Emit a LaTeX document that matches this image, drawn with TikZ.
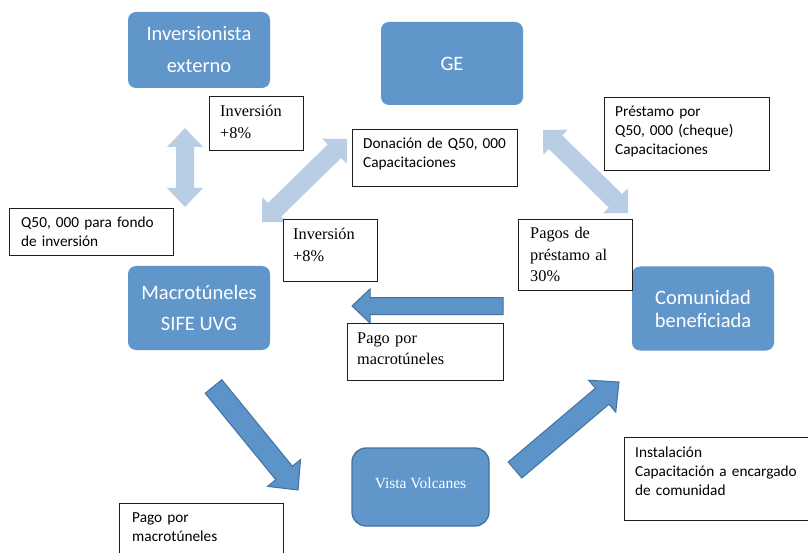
\documentclass[tikz,border=0pt]{standalone}
\usepackage{fontspec}
\setmainfont{Carlito}
\newfontfamily\calib{Carlito}
\newfontfamily\serifA{Liberation Serif}
\usetikzlibrary{calc}
\definecolor{boxblue}{RGB}{96,150,201}
\definecolor{lightarr}{RGB}{185,205,228}
\definecolor{darkarr}{RGB}{92,147,201}
\definecolor{darkedge}{RGB}{66,114,160}
\definecolor{boxline}{RGB}{30,30,30}
\tikzset{
  bluebox/.style={fill=boxblue, draw=none, rounded corners=8pt, text=white, align=center, inner sep=0pt},
  wbox/.style={draw=boxline, line width=1.3pt, fill=white, inner sep=0pt, anchor=north west},
  sanstxt/.style={font=\calib\fontsize{15.3}{19}\selectfont, anchor=base west, inner sep=0pt, align=left},
  seriftxt/.style={font=\serifA\fontsize{16.3}{21.3}\selectfont, anchor=base west, inner sep=0pt, align=left},
  lightstyle/.style={fill=lightarr, draw=none},
  darkstyle/.style={fill=darkarr, draw=darkedge, line width=1pt, line join=miter},
}
\newcommand\singlearr[6]{%
  \coordinate (#3-hb) at ($(#3)!#6!(#2)$);
  \path[#1] ($(#2)!#4!90:(#3)$) -- ($(#3-hb)!#4!90:(#3)$) -- ($(#3-hb)!#5!90:(#3)$) -- (#3)
    -- ($(#3-hb)!#5!-90:(#3)$) -- ($(#3-hb)!#4!-90:(#3)$) -- ($(#2)!#4!-90:(#3)$) -- cycle;}
\newcommand\doublearr[6]{%
  \coordinate (#2-hb) at ($(#2)!#6!(#3)$);
  \coordinate (#3-hb) at ($(#3)!#6!(#2)$);
  \path[#1] (#2) -- ($(#2-hb)!#5!90:(#3)$) -- ($(#2-hb)!#4!90:(#3)$) -- ($(#3-hb)!#4!90:(#3)$)
    -- ($(#3-hb)!#5!90:(#3)$) -- (#3) -- ($(#3-hb)!#5!-90:(#3)$) -- ($(#3-hb)!#4!-90:(#3)$)
    -- ($(#2-hb)!#4!-90:(#3)$) -- ($(#2-hb)!#5!-90:(#3)$) -- cycle;}
\begin{document}
\begin{tikzpicture}[x=1pt,y=-1pt]
\useasboundingbox[fill=white] (0,0) rectangle (808,553);

% arrow end points
\coordinate (va) at (185,128);  \coordinate (vb) at (185,207);
\coordinate (da) at (262,222);  \coordinate (db) at (347,139);
\coordinate (ea) at (543,130);  \coordinate (eb) at (628,213);
\coordinate (la) at (503,306);  \coordinate (lb) at (352,306);
\coordinate (ma) at (213.5,386.5); \coordinate (mb) at (298,490);
\coordinate (na) at (515,470);  \coordinate (nb) at (619,382);

% light double arrows
\doublearr{lightstyle}{va}{vb}{9pt}{18pt}{19pt}
\doublearr{lightstyle}{da}{db}{9.5pt}{17.5pt}{17.5pt}
\doublearr{lightstyle}{ea}{eb}{9.5pt}{17.5pt}{17.5pt}

% dark single arrows
\singlearr{darkstyle}{la}{lb}{8.5pt}{17pt}{18pt}
\singlearr{darkstyle}{ma}{mb}{10.7pt}{21.3pt}{22pt}
\singlearr{darkstyle}{na}{nb}{10.5pt}{21pt}{22pt}

% blue boxes
\node[bluebox, minimum width=142pt, minimum height=76pt, font=\calib\fontsize{20.5}{32}\selectfont] (inv) at (199,50) {Inversionista\\externo};
\node[bluebox, minimum width=142pt, minimum height=83pt, font=\calib\fontsize{20.5}{25}\selectfont] (ge) at (452,63.5) {GE};
\node[bluebox, minimum width=142pt, minimum height=84pt, font=\calib\fontsize{20.5}{31}\selectfont] (macro) at (199,308) {Macrot\'uneles\\SIFE UVG};
\node[bluebox, minimum width=142pt, minimum height=84pt, font=\calib\fontsize{20.5}{23}\selectfont] (com) at (703,308.5) {Comunidad\\beneficiada};
\node[bluebox, draw=darkedge, line width=1.3pt, rounded corners=14pt, minimum width=137pt, minimum height=78pt, font=\serifA\fontsize{15.5}{19}\selectfont] (vista) at (420.5,487) {\raisebox{7pt}{Vista Volcanes}};

% white label boxes
\node[wbox, minimum width=94pt, minimum height=54pt] (b1) at (209,96) {};
\node[seriftxt, text width=85pt] (t1) at (220,117) {Inversi\'on\\+8\%};

\node[wbox, minimum width=165pt, minimum height=57pt] (b2) at (352,129) {};
\node[sanstxt, text width=155pt] (t2) at (363,149) {Donaci\'on de Q50, 000\\Capacitaciones};

\node[wbox, minimum width=165pt, minimum height=73pt] (b3) at (604,97) {};
\node[sanstxt, text width=155pt] (t3) at (615,117) {Pr\'estamo por\\Q50, 000 (cheque)\\Capacitaciones};

\node[wbox, minimum width=164pt, minimum height=47pt] (b4) at (9,208) {};
\node[sanstxt, text width=155pt] (t4) at (21,228) {Q50, 000 para fondo\\de inversi\'on};

\node[wbox, minimum width=94pt, minimum height=62pt] (b5) at (283,219) {};
\node[seriftxt, text width=85pt] (t5) at (293,240) {Inversi\'on\\+8\%};

\node[wbox, minimum width=114pt, minimum height=71pt] (b6) at (518,219) {};
\node[seriftxt, text width=105pt] (t6) at (530,239) {Pagos de\\pr\'estamo al\\30\%};

\node[wbox, minimum width=156pt, minimum height=57pt] (b7) at (347,323) {};
\node[seriftxt, text width=145pt] (t7) at (357,343) {Pago por\\macrot\'uneles};

\node[wbox, minimum width=164pt, minimum height=60pt] (b8) at (119,503) {};
\node[sanstxt, text width=150pt] (t8) at (132,522) {Pago por\\macrot\'uneles};

\node[wbox, minimum width=190pt, minimum height=83pt] (b9) at (624,437) {};
\node[sanstxt, text width=175pt] (t9) at (635,457) {Instalaci\'on\\Capacitaci\'on a encargado\\de comunidad};
\end{tikzpicture}
\end{document}
